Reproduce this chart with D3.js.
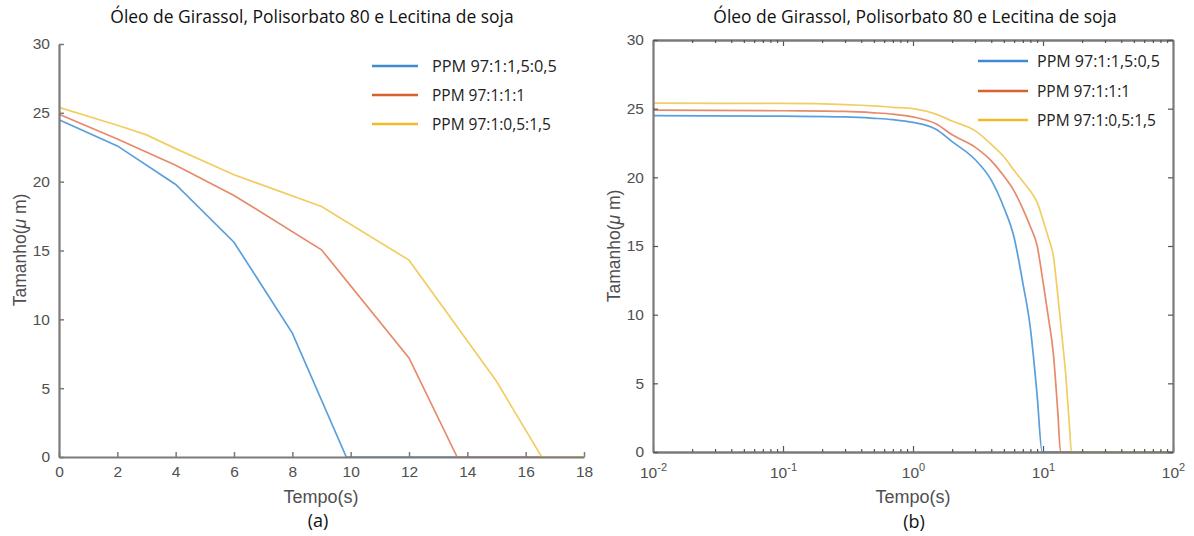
<!DOCTYPE html>
<html><head><meta charset="utf-8">
<script src="https://cdn.jsdelivr.net/npm/d3@7"></script>
<style>
html,body{margin:0;padding:0;background:#fff;}
svg{display:block;}
</style></head>
<body>
<svg id="c" width="1194" height="536"></svg>
<script>
// ---------- DATA ----------
const chartTitle = "Óleo de Girassol, Polisorbato 80 e Lecitina de soja";
const seriesNames = ["PPM 97:1:1,5:0,5", "PPM 97:1:1:1", "PPM 97:1:0,5:1,5"];
const xTicksA = [0, 2, 4, 6, 8, 10, 12, 14, 16, 18];
const yTicks = [0, 5, 10, 15, 20, 25, 30];
const xDecadesB = [-2, -1, 0, 1, 2];

// Panel (a): linear time
const tBlueA = [0, 2, 4, 6, 8, 9.85, 18];
const vBlueA = [24.5, 22.6, 19.8, 15.6, 9.0, 0, 0];
const tOrangeA = [0, 2, 4, 6, 9, 12, 13.65, 18];
const vOrangeA = [24.9, 23.1, 21.2, 19.0, 15.05, 7.2, 0, 0];
const tYellowA = [0, 2, 3, 4, 6, 9, 12, 15, 16.55, 18];
const vYellowA = [25.4, 24.1, 23.4, 22.4, 20.5, 18.2, 14.3, 5.5, 0, 0];

// Panel (b): log time
const tBlueB = [0.01, 0.1, 0.3, 0.5, 0.7, 1, 1.5, 2, 3, 4, 5, 6, 7, 8, 9, 9.85, 100];
const vBlueB = [24.5, 24.45, 24.4, 24.3, 24.2, 24.0, 23.5, 22.6, 21.3, 19.8, 17.8, 15.6, 12.3, 9.0, 4.2, 0, 0];
const tOrangeB = [0.01, 0.1, 0.3, 0.5, 0.7, 1, 1.5, 2, 3, 4, 5, 6, 7, 8, 9, 10, 11, 12, 13, 13.65, 100];
const vOrangeB = [24.9, 24.85, 24.8, 24.7, 24.6, 24.4, 23.9, 23.1, 22.2, 21.2, 20.1, 19.0, 17.7, 16.4, 15.05, 12.4, 9.8, 7.2, 2.9, 0, 0];
const tYellowB = [0.01, 0.1, 0.3, 0.5, 0.7, 1, 1.5, 2, 3, 4, 5, 6, 7, 8, 9, 10, 11, 12, 13, 14, 15, 16, 16.55, 100];
const vYellowB = [25.4, 25.38, 25.3, 25.2, 25.1, 25.0, 24.6, 24.1, 23.4, 22.4, 21.5, 20.5, 19.7, 19.0, 18.2, 16.9, 15.6, 14.3, 11.4, 8.4, 5.5, 1.8, 0, 0];

// ---------- STYLE ----------
const lineColors = ["#5a9fdc", "#e68a6a", "#f2cd63"];
const legendColors = ["#3f8bd1", "#d8622f", "#f1ba2b"];
const axisColor = "#7a7a7a";
const labelColor = "#4f4f4f";
const tickFont = "'Liberation Sans', Arial, sans-serif";
const textFont = "'Open Sans', 'Noto Sans', sans-serif";

const svg = d3.select("#c");

function zip(t, v) { return t.map((d, i) => ({ t: d, v: v[i] })); }

// scale a text's font size so that it spans the target width
function fitWidth(sel, target) {
  const fs = parseFloat(sel.style("font-size"));
  const w = sel.node().getComputedTextLength();
  if (w > 0) sel.style("font-size", (fs * target / w).toFixed(2) + "px");
  return sel;
}

function yLabel(g, cx, cy) {
  const yl = g.append("text").attr("transform", `translate(${cx},${cy}) rotate(-90)`).attr("text-anchor", "middle")
    .style("font-family", tickFont).style("font-size", "17.5px").attr("fill", labelColor);
  yl.append("tspan").text("Tamanho(");
  yl.append("tspan").style("font-style", "italic").text("μ");
  yl.append("tspan").text(" m)");
}

// ================= PANEL A =================
(function () {
  const L = 59, R = 584, T = 44, B = 457;
  const x = d3.scaleLinear().domain([0, 18]).range([L, R]);
  const y = d3.scaleLinear().domain([0, 30]).range([B, T]);
  const g = svg.append("g");

  const series = [zip(tBlueA, vBlueA), zip(tOrangeA, vOrangeA), zip(tYellowA, vYellowA)];
  const line = d3.line().x(d => x(d.t)).y(d => y(d.v));
  series.forEach((s, i) => {
    g.append("path").attr("d", line(s)).attr("fill", "none")
      .attr("stroke", lineColors[i]).attr("stroke-width", 1.7);
  });

  const xAxis = d3.axisBottom(x).tickValues(xTicksA).tickSizeInner(-5).tickSizeOuter(0).tickPadding(9);
  const yAxis = d3.axisLeft(y).tickValues(yTicks).tickSizeInner(-5).tickSizeOuter(0).tickPadding(9);
  const gx = g.append("g").attr("transform", `translate(0,${B})`).call(xAxis);
  const gy = g.append("g").attr("transform", `translate(${L},0)`).call(yAxis);
  [gx, gy].forEach(a => {
    a.select(".domain").attr("stroke", axisColor).attr("stroke-width", 2.2);
    a.selectAll(".tick line").attr("stroke", axisColor).attr("stroke-width", 1.5);
    a.selectAll(".tick text").attr("fill", labelColor).style("font-family", tickFont).style("font-size", "15.5px");
  });
  gx.selectAll(".tick text").attr("dy", "0.71em");

  const tt = g.append("text").attr("x", 312).attr("y", 23).attr("text-anchor", "middle")
    .style("font-family", textFont).style("font-size", "16px").attr("fill", "#111").text(chartTitle);
  fitWidth(tt, 404);

  g.append("text").attr("x", 321).attr("y", 503).attr("text-anchor", "middle")
    .style("font-family", tickFont).style("font-size", "18px").attr("fill", labelColor).text("Tempo(s)");
  g.append("text").attr("x", 318).attr("y", 527).attr("text-anchor", "middle")
    .style("font-family", textFont).style("font-size", "18px").attr("fill", "#111").text("(a)");

  yLabel(g, 26, 250);

  const legY = [66, 95, 124];
  seriesNames.forEach((n, i) => {
    g.append("line").attr("x1", 372).attr("x2", 418).attr("y1", legY[i]).attr("y2", legY[i])
      .attr("stroke", legendColors[i]).attr("stroke-width", 2.5);
    const lt = g.append("text").attr("x", 432).attr("y", legY[i]).attr("dy", "0.36em")
      .style("font-family", textFont).style("font-size", "15px").attr("fill", "#222").text(n);
    if (i === 0) fitWidth(lt, 125);
    else lt.style("font-size", g.select("text:last-of-type").style("font-size"));
  });
})();

// ================= PANEL B =================
(function () {
  const L = 653, R = 1173, T = 40, B = 452;
  const x = d3.scaleLog().domain([0.01, 100]).range([L, R]);
  const y = d3.scaleLinear().domain([0, 30]).range([B, T]);
  const g = svg.append("g");

  const series = [zip(tBlueB, vBlueB), zip(tOrangeB, vOrangeB), zip(tYellowB, vYellowB)];
  const line = d3.line().x(d => x(d.t)).y(d => y(d.v)).curve(d3.curveMonotoneX);
  series.forEach((s, i) => {
    g.append("path").attr("d", line(s)).attr("fill", "none")
      .attr("stroke", lineColors[i]).attr("stroke-width", 1.7);
  });

  const majors = xDecadesB.map(e => Math.pow(10, e));
  const minors = [];
  for (let e = -2; e < 2; e++) for (let k = 2; k <= 9; k++) minors.push(k * Math.pow(10, e));

  const axB = d3.axisBottom(x).tickValues(majors).tickSizeInner(-6).tickSizeOuter(0).tickFormat(() => "");
  const axBm = d3.axisBottom(x).tickValues(minors).tickSizeInner(-3).tickSizeOuter(0).tickFormat(() => "");
  const axT = d3.axisTop(x).tickValues(majors).tickSizeInner(-6).tickSizeOuter(0).tickFormat(() => "");
  const axTm = d3.axisTop(x).tickValues(minors).tickSizeInner(-3).tickSizeOuter(0).tickFormat(() => "");
  const axL = d3.axisLeft(y).tickValues(yTicks).tickSizeInner(-5).tickSizeOuter(0).tickPadding(9);
  const axR = d3.axisRight(y).tickValues(yTicks).tickSizeInner(-5).tickSizeOuter(0).tickFormat(() => "");

  const gB = g.append("g").attr("transform", `translate(0,${B})`).call(axB);
  const gBm = g.append("g").attr("transform", `translate(0,${B})`).call(axBm);
  const gT = g.append("g").attr("transform", `translate(0,${T})`).call(axT);
  const gTm = g.append("g").attr("transform", `translate(0,${T})`).call(axTm);
  const gL = g.append("g").attr("transform", `translate(${L},0)`).call(axL);
  const gR = g.append("g").attr("transform", `translate(${R},0)`).call(axR);
  [gB, gBm, gT, gTm, gL, gR].forEach(a => {
    a.select(".domain").attr("stroke", axisColor).attr("stroke-width", 2.2);
    a.selectAll(".tick line").attr("stroke", "#555").attr("stroke-width", 1.2);
    a.selectAll(".tick text").attr("fill", labelColor).style("font-family", tickFont).style("font-size", "15.5px");
  });

  gB.selectAll(".tick").each(function (d) {
    const e = Math.round(Math.log10(d));
    const t = d3.select(this).append("text").attr("y", 26).attr("text-anchor", "middle")
      .attr("fill", labelColor).style("font-family", tickFont).style("font-size", "15.5px");
    t.append("tspan").text("10");
    t.append("tspan").attr("dy", -7).style("font-size", "11px").text(String(e));
  });

  const tt = g.append("text").attr("x", 915).attr("y", 23).attr("text-anchor", "middle")
    .style("font-family", textFont).style("font-size", "16px").attr("fill", "#111").text(chartTitle);
  fitWidth(tt, 404);

  g.append("text").attr("x", 913).attr("y", 503).attr("text-anchor", "middle")
    .style("font-family", tickFont).style("font-size", "18px").attr("fill", labelColor).text("Tempo(s)");
  g.append("text").attr("x", 914).attr("y", 528).attr("text-anchor", "middle")
    .style("font-family", textFont).style("font-size", "18px").attr("fill", "#111").text("(b)");

  yLabel(g, 620, 246);

  const legY = [61, 91, 120];
  seriesNames.forEach((n, i) => {
    g.append("line").attr("x1", 978).attr("x2", 1028).attr("y1", legY[i]).attr("y2", legY[i])
      .attr("stroke", legendColors[i]).attr("stroke-width", 2.5);
    const lt = g.append("text").attr("x", 1037).attr("y", legY[i]).attr("dy", "0.36em")
      .style("font-family", textFont).style("font-size", "15px").attr("fill", "#222").text(n);
    if (i === 0) fitWidth(lt, 123);
    else lt.style("font-size", g.select("text:last-of-type").style("font-size"));
  });
})();
</script>
</body></html>
